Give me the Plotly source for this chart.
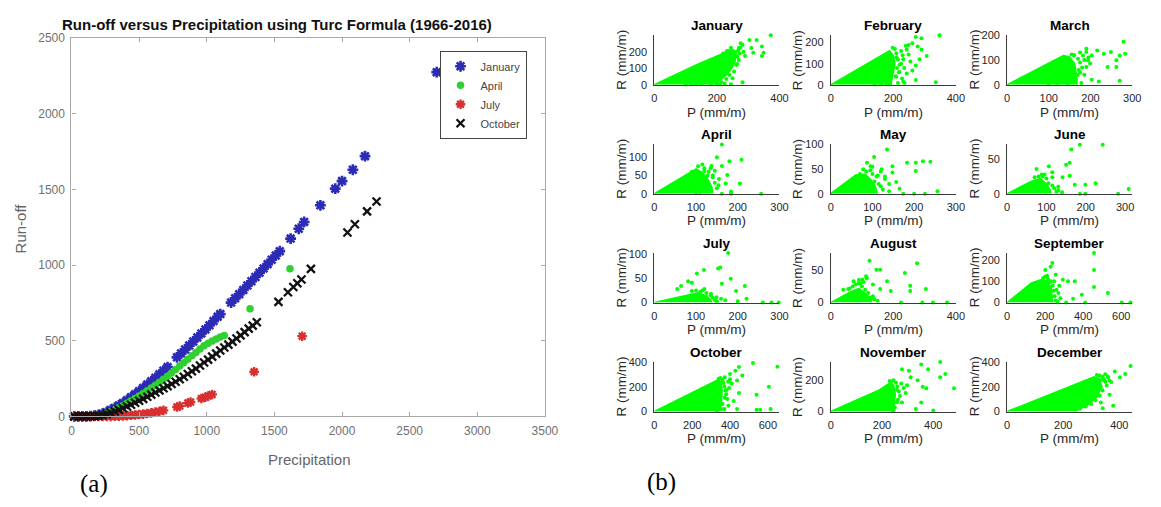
import plotly.graph_objects as go

W, H = 1161, 507

# ---------------- (a) Run-off versus Precipitation (Turc) ----------------
JAN_P = [20,50,80,110,140,170,200,230,260,290,320,350,380,410,440,470,500,530,560,590,
         620,650,680,710,780,810,840,870,900,930,960,990,1020,1050,1080,1100,1180,1210,1240,1270,
         1300,1330,1360,1390,1420,1450,1480,1510,1540,1620,1680,1720,1840,1950,2000,2080,2170,2700]
JAN_R = [0,0,0,0,2,5,10,18,28,42,56,72,88,106,126,146,166,188,210,232,
         255,278,302,326,390,416,442,468,495,522,548,575,602,630,658,676,752,780,808,836,
         865,893,921,950,978,1006,1035,1063,1092,1175,1240,1285,1395,1505,1555,1630,1720,2275]

APR_P = [20,50,80,110,140,170,200,230,260,290,320,350,380,410,440,470,500,530,560,590,
         620,650,680,710,740,770,800,830,860,890,920,950,980,1010,1040,1070,1100,1130,1320,1615]
APR_R = [0,0,0,0,1,3,7,13,21,32,44,57,71,86,102,118,135,152,170,188,
         206,225,245,266,287,310,333,355,378,400,422,445,466,484,498,512,524,535,712,975]

JUL_P = [20,50,80,110,140,170,200,230,260,290,320,350,380,410,440,470,500,530,560,590,
         620,650,680,780,800,860,880,960,990,1010,1040,1350,1705]
JUL_R = [0,0,0,0,0,0,0,0,0,0,1,2,3,5,7,9,12,15,19,23,
         28,33,40,62,68,88,95,118,126,135,145,295,530]

OCT_P = [20,50,80,110,140,170,200,230,260,290,320,350,380,410,440,470,500,530,560,590,
         620,650,680,710,740,770,800,830,860,890,920,950,980,1010,1040,1070,1100,1130,1160,1190,
         1220,1250,1280,1310,1340,1370,1530,1600,1640,1670,1700,1770,2040,2095,2185,2255]
OCT_R = [0,0,0,0,0,1,3,8,15,24,33,43,54,65,77,90,103,116,130,144,
         158,172,186,200,214,229,245,262,280,298,316,336,356,375,395,415,435,455,474,494,
         515,535,557,580,600,622,757,820,855,880,905,975,1215,1270,1355,1420]

A_XTICKS = [0, 500, 1000, 1500, 2000, 2500, 3000, 3500]
A_YTICKS = [0, 500, 1000, 1500, 2000, 2500]

# ---------------- (b) monthly R versus P ----------------
MONTHS = ["January", "February", "March", "April", "May", "June",
          "July", "August", "September", "October", "November", "December"]
X_MAX = [400, 400, 300, 300, 300, 318, 300, 400, 658, 661, 488, 446]
Y_MAX = [301, 235, 200, 136, 101, 72, 102, 77, 231, 400, 318, 400]
X_TICKS = [[0, 200, 400], [0, 200, 400], [0, 100, 200, 300], [0, 100, 200, 300],
           [0, 100, 200, 300], [0, 100, 200, 300], [0, 100, 200, 300], [0, 200, 400],
           [0, 200, 400, 600], [0, 200, 400, 600], [0, 200, 400], [0, 200, 400]]
Y_TICKS = [[0, 100, 200], [0, 100, 200], [0, 100, 200], [0, 50, 100], [0, 50, 100], [0, 50],
           [0, 50, 100], [0, 50], [0, 100, 200], [0, 200, 400], [0, 200], [0, 200, 400]]

# outline of the dense point cloud (P, R) and the scattered points of each month
jan_cp = [0, 135, 250, 262, 258, 246, 228, 205, 185]
jan_cr = [0, 122, 215, 200, 140, 95, 55, 20, 0]
jan_p = [372,327,304,276,282,344,316,349,344,310,270,254,259,237,248,203,180,282,180,135,203,214,265,225,240,195,160,120,
         268,272,265,270,262,255,240,230,215,250,275,285,290,245,232,220,200,210,100,150,245,225]
jan_r = [301,272,272,252,243,233,194,194,175,223,223,194,175,155,136,78,49,16,4,4,4,117,126,190,205,40,20,3,
         210,190,170,150,120,80,60,35,15,40,225,200,175,225,205,190,5,3,2,3,3,8]

feb_cp = [0, 174, 188, 200, 205, 200, 192]
feb_cr = [0, 152, 162, 140, 100, 55, 0]
feb_p = [348,272,290,261,249,278,290,243,307,284,272,261,243,209,272,336,215,232,249,220,232,225,210,235,255,
         205,210,215,220,212,208,225,230,240,198,195,218,228,236,190,160,180,140]
feb_r = [235,227,220,197,189,182,167,167,136,121,91,68,53,38,23,12,8,121,144,61,15,100,130,80,110,
         170,150,120,95,80,40,160,140,185,175,120,60,30,10,5,2,3,1]

mar_cp = [0, 135, 150, 162, 166, 168]
mar_cr = [0, 118, 112, 85, 45, 0]
mar_p = [279,190,216,249,232,190,182,203,161,270,283,262,241,262,194,199,190,220,203,270,169,178,135,175,150,
         160,170,175,180,172,165,185,155,150,145,185,195,175,120,100]
mar_r = [174,145,138,132,125,132,118,118,118,118,125,99,72,72,99,86,72,13,20,16,39,7,11,50,90,
         120,105,90,70,60,20,40,122,10,5,100,110,130,3,2]

apr_cp = [0, 80, 100, 115, 128, 138, 140]
apr_cr = [0, 56, 68, 58, 40, 18, 0]
apr_p = [162,150,180,209,162,137,145,175,171,205,154,162,184,256,184,128,111,124,120,140,
         105,115,120,130,140,145,150,135,155,110,100,90,120]
apr_r = [135,100,89,93,76,76,63,51,28,28,23,0,0,0,6,50,50,37,62,45,
         75,80,70,60,50,30,15,70,40,5,3,60,20]

may_cp = [0, 60, 82, 98, 108, 112]
may_cr = [0, 38, 40, 27, 12, 0]
may_p = [135,104,87,96,122,148,183,204,221,239,204,148,130,157,256,200,174,226,113,78,140,165,120,
         85,95,100,110,105,115,120,125,90,70,100,130,140]
may_r = [90,75,63,56,50,56,63,63,66,65,46,43,30,24,5,0,0,0,37,50,20,10,45,
         45,48,40,35,25,20,15,8,5,40,55,35,5]

jun_cp = [0, 62, 85, 100, 110, 112]
jun_cr = [0, 18, 22, 14, 5, 0]
jun_p = [185,243,163,159,150,106,75,115,141,159,172,199,225,309,282,199,185,115,88,130,
         90,100,105,95,115,120,125,80,70,130,140]
jun_r = [71,71,64,45,42,40,36,31,24,26,13,13,15,7,0,0,0,24,28,10,
         25,22,15,28,12,8,3,25,24,5,2]

jul_cp = [0, 80, 105, 125, 135, 138]
jul_cr = [0, 16, 20, 14, 6, 0]
jul_p = [177,158,153,119,102,81,90,64,183,162,196,217,149,136,221,260,281,298,200,55,
         110,115,125,135,140,145,150,120,100,90,160,170]
jul_r = [102,72,70,67,60,44,41,34,49,39,24,34,11,18,8,0,0,0,3,28,
         22,25,20,15,10,5,3,28,25,24,8,5]

aug_cp = [0, 60, 90, 110, 125, 130]
aug_cr = [0, 16, 22, 15, 6, 0]
aug_p = [208,124,276,146,158,113,101,73,56,135,180,158,192,237,254,254,304,372,327,293,225,130,90,40,
         70,80,95,100,110,120,125,135,140,150,90,60,105,115]
aug_r = [78,65,61,51,51,41,36,33,21,28,33,21,18,46,26,18,21,0,0,0,0,6,30,20,
         25,28,30,25,20,15,8,10,5,3,35,22,32,38]

sep_cp = [0, 128, 180, 212, 232, 238, 240]
sep_cr = [0, 92, 108, 100, 70, 30, 0]
sep_p = [457,457,457,238,229,201,256,293,320,356,274,393,347,530,603,649,311,411,210,247,
         190,200,215,225,240,245,250,255,230,210,260,270,280,265]
sep_r = [231,152,73,185,167,152,130,107,100,100,78,36,18,45,0,0,0,0,122,100,
         115,120,110,95,80,55,30,10,100,125,60,45,20,5]

oct_cp = [0, 300, 335, 352, 358, 355, 345]
oct_cr = [0, 233, 255, 240, 170, 80, 0]
oct_p = [521,650,447,428,400,372,465,437,409,447,605,540,382,372,419,437,540,559,614,354,391,
         340,350,360,365,370,375,380,385,360,345,390,330,395,400,370]
oct_r = [392,362,359,328,303,277,290,251,226,149,200,136,174,110,85,21,15,15,21,21,46,
         265,270,255,230,200,170,140,100,60,30,240,5,190,260,20]

nov_cp = [0, 190, 228, 245, 252, 248, 238]
nov_cr = [0, 139, 180, 170, 110, 45, 0]
nov_p = [427,353,380,447,427,305,278,312,339,359,298,373,481,292,353,332,400,244,278,258,
         235,245,255,260,265,270,258,250,275,285,240,262,230]
nov_r = [318,302,271,241,220,261,271,220,200,159,169,149,149,118,57,16,6,6,57,139,
         190,200,185,160,130,100,60,25,180,150,10,75,195]

dec_cp = [0, 260, 310, 332, 336, 322, 285, 242]
dec_cr = [0, 233, 280, 262, 200, 120, 50, 0]
dec_p = [440,421,384,402,359,341,371,334,365,310,297,334,341,378,266,235,
         320,330,340,345,350,355,340,330,315,300,350,360,365,280,260]
dec_r = [367,303,323,277,277,256,238,200,136,149,97,72,26,46,59,33,
         295,290,280,260,240,210,170,130,90,60,300,280,250,40,25]

CLOUD_P = [jan_cp, feb_cp, mar_cp, apr_cp, may_cp, jun_cp, jul_cp, aug_cp, sep_cp, oct_cp, nov_cp, dec_cp]
CLOUD_R = [jan_cr, feb_cr, mar_cr, apr_cr, may_cr, jun_cr, jul_cr, aug_cr, sep_cr, oct_cr, nov_cr, dec_cr]
PTS_P = [jan_p, feb_p, mar_p, apr_p, may_p, jun_p, jul_p, aug_p, sep_p, oct_p, nov_p, dec_p]
PTS_R = [jan_r, feb_r, mar_r, apr_r, may_r, jun_r, jul_r, aug_r, sep_r, oct_r, nov_r, dec_r]

# ---------------- helpers ----------------
SANS = "Liberation Sans, Arial, sans-serif"
SERIF = "Liberation Serif, Times New Roman, serif"


def fx(px):
    return px / W


def fy(py):
    return 1 - py / H


fig = go.Figure()
annotations = []


def note(text, x, y, size, color="#000", bold=False, angle=0, family=SANS):
    annotations.append(dict(
        text=f"<b>{text}</b>" if bold else text, x=fx(x), y=fy(y), xref="paper", yref="paper",
        showarrow=False, xanchor="center", yanchor="middle", textangle=angle,
        font=dict(family=family, size=size, color=color)))


# ---------------- panel (a) ----------------
A_L, A_R, A_T, A_B = 69.5, 550, 32, 421
series = [
    ("January", JAN_P, JAN_R, dict(symbol="asterisk-open", size=9, color="#2b2bb5",
                                   line=dict(color="#2b2bb5", width=2.6))),
    ("April", APR_P, APR_R, dict(symbol="circle", size=7.5, color="#30d030",
                                 line=dict(color="#30d030", width=0))),
    ("July", JUL_P, JUL_R, dict(symbol="asterisk-open", size=8, color="#d83030",
                                line=dict(color="#d83030", width=2.3))),
    ("October", OCT_P, OCT_R, dict(symbol="x-thin-open", size=8, color="#111111",
                                   line=dict(color="#111111", width=2.3))),
]
for name, p, r, mk in series:
    fig.add_trace(go.Scatter(x=p, y=r, mode="markers", name=name, marker=mk,
                             cliponaxis=False, xaxis="x", yaxis="y"))

axis_a = dict(showline=True, linecolor="#a8a8a8", linewidth=1.2, mirror="ticks",
              showgrid=False, zeroline=False, ticks="inside", ticklen=4,
              tickcolor="#a8a8a8", tickfont=dict(family=SANS, size=12, color="#707070"))
layout = dict(
    xaxis=dict(domain=[fx(A_L), fx(A_R)], range=[0, 3500], tickvals=A_XTICKS,
               anchor="y", ticklabelstandoff=3, **axis_a),
    yaxis=dict(domain=[fy(A_B), fy(A_T)], range=[0, 2500], tickvals=A_YTICKS,
               anchor="x", ticklabelstandoff=3, **axis_a),
)
note("Run-off versus Precipitation using Turc Formula (1966-2016)", 278, 18, 15, "#111", bold=True)
note("Precipitation", 311, 465, 15, "#666")
note("Run-off", 18, 228, 15, "#666", angle=-90)
note("(a)", 92, 491, 25, "#000", family=SERIF)
note("(b)", 668, 489, 25, "#000", family=SERIF)

# ---------------- panel (b) ----------------
COL_LEFT = [661, 840, 1019]
PANEL_W = 127
ROW_BOTTOM = [80, 192, 304, 416]
PANEL_H = 51
GREEN = "#00ff00"
small_font = dict(family=SANS, size=11, color="#262626")

for i, month in enumerate(MONTHS):
    n = i + 2
    col, row = i % 3, i // 3
    left = COL_LEFT[col]
    right = left + PANEL_W
    bottom = ROW_BOTTOM[row]
    top = bottom - PANEL_H
    xa, ya = f"x{n}", f"y{n}"
    fig.add_trace(go.Scatter(x=CLOUD_P[i], y=CLOUD_R[i], mode="lines", fill="toself",
                             fillcolor=GREEN, line=dict(color=GREEN, width=1.5),
                             showlegend=False, hoverinfo="skip", xaxis=xa, yaxis=ya))
    fig.add_trace(go.Scatter(x=PTS_P[i], y=PTS_R[i], mode="markers",
                             marker=dict(size=4, color=GREEN), cliponaxis=False,
                             showlegend=False, xaxis=xa, yaxis=ya))
    ax = dict(showline=True, linecolor="#3a3a3a", linewidth=1, showgrid=False,
              zeroline=False, ticks="", tickfont=small_font)
    layout[f"xaxis{n}"] = dict(domain=[fx(left), fx(right)], range=[0, X_MAX[i]],
                               tickvals=X_TICKS[i], anchor=ya, ticklabelstandoff=3, **ax)
    layout[f"yaxis{n}"] = dict(domain=[fy(bottom), fy(top)], range=[0, Y_MAX[i]],
                               tickvals=Y_TICKS[i], anchor=xa, ticklabelstandoff=4, **ax)
    cx = (left + right) / 2
    note(month, cx, bottom - 61, 13.5, "#000", bold=True)
    note("P (mm/m)", cx, bottom + 28, 13.5, "#262626")
    note("R (mm/m)", left - 33, bottom - PANEL_H / 2, 13.5, "#262626", angle=-90)

fig.update_layout(
    width=W, height=H, margin=dict(l=0, r=0, t=0, b=0),
    paper_bgcolor="white", plot_bgcolor="white",
    showlegend=True,
    legend=dict(x=fx(443), y=fy(45), xanchor="left", yanchor="top",
                bordercolor="#444", borderwidth=1, bgcolor="white",
                font=dict(family=SANS, size=11, color="#444"),
                tracegroupgap=0, itemwidth=30),
    annotations=annotations,
    **layout,
)

fig.write_html("out.html")
